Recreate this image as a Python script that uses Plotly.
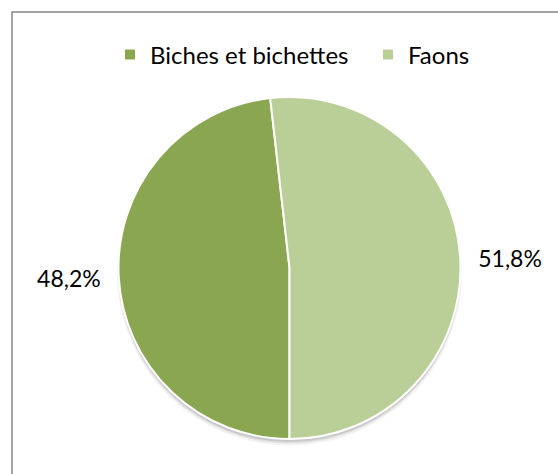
import plotly.graph_objects as go

labels = ["Biches et bichettes", "Faons"]
values = [48.2, 51.8]
text_labels = ["48,2%", "51,8%"]
colors = ["#8AA650", "#BACF98"]

W, H = 558, 474
CX, CY, RAD = 289.5, 268.0, 171.0  # pie centre / radius in pixels (style)


def dom(cx, cy, r):
    return dict(x=[(cx - r) / W, (cx + r) / W], y=[(H - cy - r) / H, (H - cy + r) / H])


fig = go.Figure()

# soft shadow under the pie (a few stacked translucent discs)
for dy, dr, a in [(5, 1.5, 0.05), (4, 0.5, 0.07), (3, 0, 0.10)]:
    fig.add_trace(go.Pie(
        labels=labels, values=values, sort=False, direction="clockwise", rotation=180,
        domain=dom(CX, CY + dy, RAD + dr),
        marker=dict(colors=[f"rgba(0,0,0,{a})"] * 2, line=dict(width=0)),
        textinfo="none", showlegend=False, hoverinfo="skip",
    ))

# invisible slightly larger pie that carries the outside percentage labels
fig.add_trace(go.Pie(
    labels=labels, values=values, text=text_labels, sort=False,
    direction="clockwise", rotation=180,
    domain=dom(CX, CY, RAD + 11),
    marker=dict(colors=["rgba(0,0,0,0)"] * 2, line=dict(width=0)),
    textinfo="text", textposition="outside",
    textfont=dict(size=23, color="#000000", family="Lato"),
    showlegend=False, hoverinfo="skip",
))

# main pie
fig.add_trace(go.Pie(
    labels=labels, values=values, sort=False, direction="clockwise", rotation=180,
    domain=dom(CX, CY, RAD),
    marker=dict(colors=colors, line=dict(color="white", width=2)),
    textinfo="none", showlegend=True, hoverinfo="label+percent",
))

fig.update_layout(
    width=W, height=H,
    margin=dict(l=0, r=0, t=0, b=0, autoexpand=False),
    paper_bgcolor="white",
    plot_bgcolor="white",
    font=dict(family="Lato", size=23, color="#000000"),
    legend=dict(
        orientation="h",
        x=(130 - 20) / W, xanchor="left",
        y=(H - 55) / H, yanchor="middle",
        font=dict(size=24, family="Lato"),
        itemwidth=30,
        entrywidth=213, entrywidthmode="pixels",
        traceorder="normal",
        bgcolor="rgba(0,0,0,0)",
    ),
    shapes=[dict(
        type="rect", xref="paper", yref="paper",
        x0=12 / W, x1=1.05, y0=-0.05, y1=(H - 12) / H,
        line=dict(color="#878787", width=1.5),
        fillcolor="rgba(0,0,0,0)",
        layer="below",
    )],
)

fig.write_html(
    "out.html",
    config={"displayModeBar": False},
    post_script="document.body.style.margin='0';",
)
